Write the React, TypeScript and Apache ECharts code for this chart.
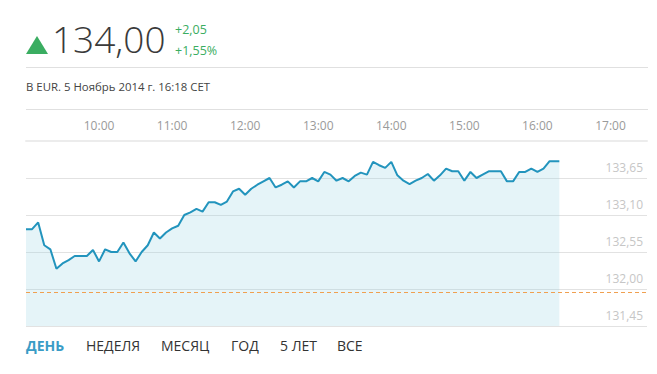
import React, { useEffect, useRef } from "react";
import * as echarts from "echarts";

const times: string[] = [
  "09:00","09:05","09:10","09:15","09:20","09:25","09:30","09:35","09:40","09:45","09:50","09:55",
  "10:00","10:05","10:10","10:15","10:20","10:25","10:30","10:35","10:40","10:45","10:50","10:55",
  "11:00","11:05","11:10","11:15","11:20","11:25","11:30","11:35","11:40","11:45","11:50","11:55",
  "12:00","12:05","12:10","12:15","12:20","12:25","12:30","12:35","12:40","12:45","12:50","12:55",
  "13:00","13:05","13:10","13:15","13:20","13:25","13:30","13:35","13:40","13:45","13:50","13:55",
  "14:00","14:05","14:10","14:15","14:20","14:25","14:30","14:35","14:40","14:45","14:50","14:55",
  "15:00","15:05","15:10","15:15","15:20","15:25","15:30","15:35","15:40","15:45","15:50","15:55",
  "16:00","16:05","16:10","16:15","16:18",
];

const prices: number[] = [
  132.89,132.89,132.99,132.65,132.59,132.30,132.38,132.43,132.49,132.49,132.49,132.58,
  132.41,132.59,132.55,132.55,132.69,132.53,132.41,132.55,132.65,132.84,132.75,132.84,
  132.90,132.94,133.10,133.14,133.19,133.15,133.29,133.29,133.25,133.30,133.45,133.49,
  133.40,133.49,133.55,133.60,133.65,133.51,133.55,133.60,133.51,133.60,133.60,133.65,
  133.60,133.74,133.70,133.61,133.65,133.60,133.68,133.73,133.70,133.89,133.84,133.80,
  133.89,133.69,133.61,133.56,133.61,133.65,133.71,133.61,133.69,133.79,133.75,133.75,
  133.61,133.74,133.65,133.70,133.75,133.75,133.75,133.60,133.60,133.74,133.74,133.79,
  133.74,133.79,133.90,133.90,133.90,
];

const previousClose = 131.95;
const lastPrice = "134,00";
const changeAbs = "+2,05";
const changePct = "+1,55%";
const subtitle = "В EUR. 5 Ноябрь 2014 г. 16:18 CET";
const periods: string[] = ["ДЕНЬ", "НЕДЕЛЯ", "МЕСЯЦ", "ГОД", "5 ЛЕТ", "ВСЕ"];
const periodX: number[] = [26, 86, 161, 231, 280, 337];

const toMin = (t: string) => {
  const [h, m] = t.split(":").map(Number);
  return h * 60 + m;
};
const fmtTime = (v: number) => {
  const h = Math.floor(v / 60);
  const m = v % 60;
  return `${h}:${m < 10 ? "0" + m : m}`;
};

const FONT = "'Open Sans', 'Noto Sans', sans-serif";

export default function App() {
  const ref = useRef<HTMLDivElement>(null);
  useEffect(() => {
    if (!ref.current) return;
    const chart = echarts.init(ref.current, undefined, { renderer: "svg" });
    const data = times.map((t, i) => [toMin(t), prices[i]]);
    const green = "#3aad61";
    chart.setOption({
      animation: false,
      textStyle: { fontFamily: FONT },
      grid: { left: 26, right: 10, top: 141, bottom: 48 },
      xAxis: {
        type: "value",
        position: "top",
        min: 540,
        max: 1050,
        interval: 60,
        axisLine: { show: true, lineStyle: { color: "#ececec", width: 2 } },
        axisTick: { show: false },
        splitLine: { show: false },
        axisLabel: {
          color: "#9a9a9a",
          fontSize: 12,
          margin: 10,
          fontFamily: FONT,
          formatter: (v: number) => (v === 540 || v === 1050 ? "" : fmtTime(v)),
        },
      },
      yAxis: {
        type: "value",
        position: "right",
        min: 131.45,
        max: 134.2,
        interval: 0.55,
        axisLine: { show: false },
        axisTick: { show: false },
        splitLine: { lineStyle: { color: "#e2e2e2", width: 1 } },
        axisLabel: {
          inside: true,
          showMaxLabel: false,
          color: "#c6c6c6",
          fontSize: 12,
          margin: 4,
          verticalAlign: "bottom",
          padding: [0, 0, 5, 0],
          fontFamily: FONT,
          formatter: (v: number) => v.toFixed(2).replace(".", ","),
        },
      },
      series: [
        {
          type: "line",
          data,
          symbol: "none",
          lineStyle: { color: "#2294bd", width: 2 },
          areaStyle: { color: "rgba(150,210,225,0.35)", origin: "start" },
          markLine: {
            silent: true,
            symbol: ["none", "none"],
            label: { show: false },
            lineStyle: { color: "#f0a050", type: [4, 3], width: 1 },
            data: [{ yAxis: previousClose }],
          },
        },
      ],
      graphic: [
        {
          type: "polygon",
          shape: { points: [[26, 54], [48, 54], [37, 36]] },
          style: { fill: green },
        },
        {
          type: "text",
          left: 52,
          top: 20,
          style: { text: lastPrice, font: `300 37px ${FONT}`, fill: "#3a3a3a" },
        },
        {
          type: "text",
          left: 175,
          top: 23,
          style: { text: changeAbs, font: `12.5px ${FONT}`, fill: green },
        },
        {
          type: "text",
          left: 175,
          top: 44,
          style: { text: changePct, font: `12.5px ${FONT}`, fill: green },
        },
        {
          type: "line",
          shape: { x1: 26, y1: 67.5, x2: 648, y2: 67.5 },
          style: { stroke: "#e0e0e0", lineWidth: 1 },
        },
        {
          type: "text",
          left: 26,
          top: 81,
          style: { text: subtitle, font: `11.4px ${FONT}`, fill: "#444" },
        },
        {
          type: "line",
          shape: { x1: 26, y1: 109.5, x2: 648, y2: 109.5 },
          style: { stroke: "#e0e0e0", lineWidth: 1 },
        },
        ...periods.map((p, i) => ({
          type: "text",
          left: periodX[i],
          top: 338,
          style: {
            text: p,
            font: `${i === 0 ? "bold " : ""}14px ${FONT}`,
            fill: i === 0 ? "#3a9cc6" : "#333",
          },
        })),
      ],
    });
    return () => chart.dispose();
  }, []);
  return (
    <div
      ref={ref}
      style={{ position: "absolute", left: 0, top: 0, width: 657, height: 374, background: "#fff" }}
    />
  );
}
